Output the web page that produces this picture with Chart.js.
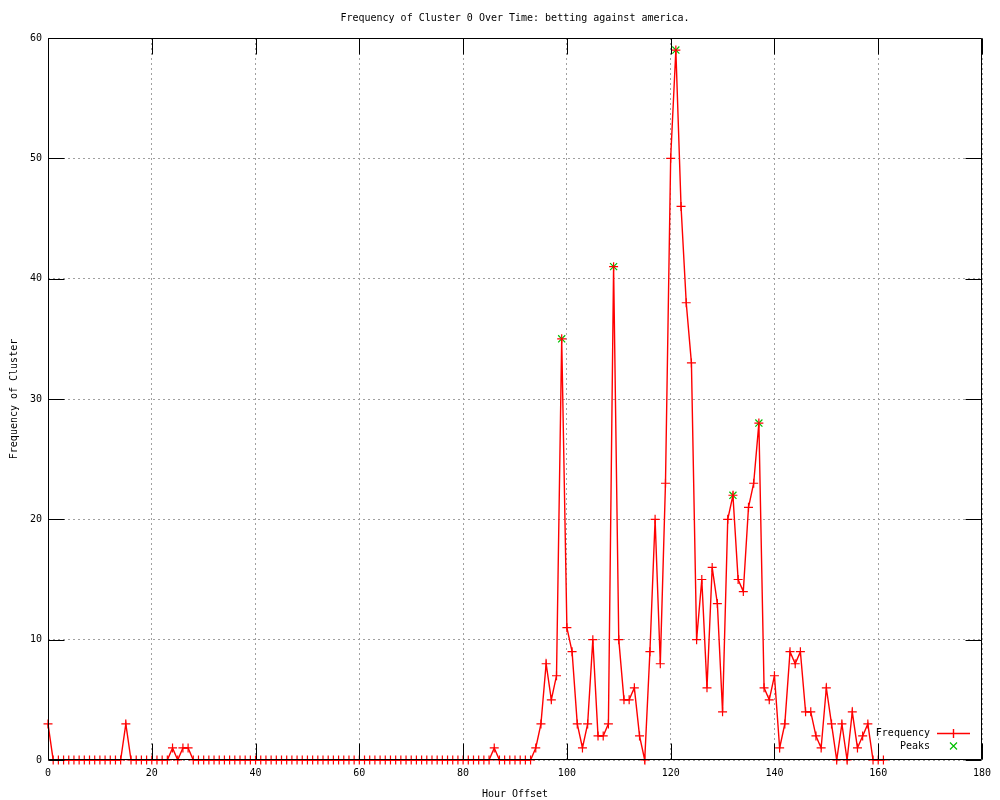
<!DOCTYPE html>
<html>
<head>
<meta charset="utf-8">
<title>Frequency of Cluster 0 Over Time</title>
<script src="https://cdn.jsdelivr.net/npm/chart.js@4.4.1/dist/chart.umd.min.js"></script>
<style>
    html, body { margin: 0; padding: 0; background: #ffffff; }
    canvas { display: block; }
</style>
</head>
<body>
<canvas id="clusterChart" width="1000" height="800"></canvas>
<script>
// --- Data ---
const chartTitle = 'Frequency of Cluster 0 Over Time: betting against america.';
const firstHour = 0;

// one value per hour offset, starting at firstHour (10 per row)
const frequency = [
    3, 0, 0, 0, 0, 0, 0, 0, 0, 0,
    0, 0, 0, 0, 0, 3, 0, 0, 0, 0,
    0, 0, 0, 0, 1, 0, 1, 1, 0, 0,
    0, 0, 0, 0, 0, 0, 0, 0, 0, 0,
    0, 0, 0, 0, 0, 0, 0, 0, 0, 0,
    0, 0, 0, 0, 0, 0, 0, 0, 0, 0,
    0, 0, 0, 0, 0, 0, 0, 0, 0, 0,
    0, 0, 0, 0, 0, 0, 0, 0, 0, 0,
    0, 0, 0, 0, 0, 0, 1, 0, 0, 0,
    0, 0, 0, 0, 1, 3, 8, 5, 7, 35,
    11, 9, 3, 1, 3, 10, 2, 2, 3, 41,
    10, 5, 5, 6, 2, 0, 9, 20, 8, 23,
    50, 59, 46, 38, 33, 10, 15, 6, 16, 13,
    4, 20, 22, 15, 14, 21, 23, 28, 6, 5,
    7, 1, 3, 9, 8, 9, 4, 4, 2, 1,
    6, 3, 0, 3, 0, 4, 1, 2, 3, 0,
    0, 0
];

const peakHours = [99, 109, 121, 132, 137];
const peakValues = [35, 41, 59, 22, 28];

const xTickValues = [0, 20, 40, 60, 80, 100, 120, 140, 160, 180];
const yTickValues = [0, 10, 20, 30, 40, 50, 60];

// --- Look ---
const FONT = 'DejaVu Sans Mono';
const RED = '#ff0000';
const GREEN = '#00c000';
const TIC_LEN = 16;

const frequencyPoints = frequency.map((v, i) => ({ x: firstHour + i, y: v }));
const peakPoints = peakHours.map((h, i) => ({ x: h, y: peakValues[i] }));

function strokeSegments(ctx, color, width, segs) {
    ctx.save();
    ctx.strokeStyle = color;
    ctx.lineWidth = width;
    ctx.beginPath();
    segs.forEach(s => {
        ctx.moveTo(s[0], s[1]);
        ctx.lineTo(s[2], s[3]);
    });
    ctx.stroke();
    ctx.restore();
}

// title centred over the plot, like gnuplot does it
const plotTitle = {
    id: 'plotTitle',
    afterDraw(chart) {
        const { ctx, chartArea } = chart;
        ctx.save();
        ctx.font = '10px "' + FONT + '"';
        ctx.fillStyle = '#000';
        ctx.textAlign = 'center';
        ctx.textBaseline = 'middle';
        ctx.fillText(chartTitle, (chartArea.left + chartArea.right) / 2, 18);
        ctx.restore();
    }
};

// black border with inward tics on all four sides
const plotFrame = {
    id: 'plotFrame',
    afterDatasetsDraw(chart) {
        const { ctx, chartArea: a, scales } = chart;
        const left = Math.round(a.left) + 0.5;
        const right = Math.round(a.right) - 0.5;
        const top = Math.round(a.top) + 0.5;
        const bottom = Math.round(a.bottom) - 0.5;
        const segs = [];
        xTickValues.forEach(v => {
            const px = Math.round(scales.x.getPixelForValue(v)) + 0.5;
            segs.push([px, bottom, px, bottom - TIC_LEN]);
            segs.push([px, top, px, top + TIC_LEN]);
        });
        yTickValues.forEach(v => {
            const py = Math.round(scales.y.getPixelForValue(v)) + 0.5;
            segs.push([left, py, left + TIC_LEN, py]);
            segs.push([right, py, right - TIC_LEN, py]);
        });
        segs.push([left, top, right, top], [right, top, right, bottom],
                  [right, bottom, left, bottom], [left, bottom, left, top]);
        strokeSegments(ctx, '#000', 1, segs);
    }
};

// gnuplot style key in the lower right corner: text first, sample after
const plotKey = {
    id: 'plotKey',
    afterDraw(chart) {
        const { ctx } = chart;
        const sets = chart.data.datasets;
        ctx.save();
        ctx.font = '10px "' + FONT + '"';
        ctx.fillStyle = '#000';
        ctx.textAlign = 'right';
        ctx.textBaseline = 'middle';
        ctx.fillText(sets[0].label, 930, 733);
        ctx.fillText(sets[1].label, 930, 746);
        ctx.restore();

        strokeSegments(ctx, RED, 1.4, [
            [937, 733.5, 970, 733.5],
            [953.5, 729, 953.5, 738]
        ]);
        strokeSegments(ctx, GREEN, 1.2, [
            [950, 742.5, 957, 749.5],
            [957, 742.5, 950, 749.5]
        ]);
    }
};

const ctx = document.getElementById('clusterChart').getContext('2d');
new Chart(ctx, {
    type: 'line',
    data: {
        datasets: [
            {
                label: 'Frequency',
                data: frequencyPoints,
                borderColor: RED,
                borderWidth: 1.4,
                tension: 0,
                pointStyle: 'cross',
                pointRadius: 4.5,
                pointHoverRadius: 4.5,
                pointBorderColor: RED,
                pointBorderWidth: 1.2,
                clip: false
            },
            {
                label: 'Peaks',
                data: peakPoints,
                showLine: false,
                borderColor: GREEN,
                pointStyle: 'crossRot',
                pointRadius: 5,
                pointHoverRadius: 5,
                pointBorderColor: GREEN,
                pointBorderWidth: 1.2,
                clip: false
            }
        ]
    },
    options: {
        responsive: false,
        animation: false,
        devicePixelRatio: 1,
        events: [],
        layout: {
            padding: { top: 38, right: 18, left: 0, bottom: 0 }
        },
        plugins: {
            legend: { display: false },
            title: { display: false },
            tooltip: { enabled: false }
        },
        scales: {
            x: {
                type: 'linear',
                min: 0,
                max: 180,
                afterBuildTicks: scale => { scale.ticks = xTickValues.map(v => ({ value: v })); },
                afterFit: scale => { scale.height = 40; },
                grid: { color: '#a0a0a0', drawTicks: false },
                border: { display: false, dash: [2, 3] },
                ticks: {
                    color: '#000',
                    padding: 7,
                    maxRotation: 0,
                    font: { family: FONT, size: 10 }
                },
                title: {
                    display: true,
                    text: 'Hour Offset',
                    color: '#000',
                    padding: { top: 1, bottom: 0 },
                    font: { family: FONT, size: 10, lineHeight: 1.2 }
                }
            },
            y: {
                type: 'linear',
                min: 0,
                max: 60,
                afterBuildTicks: scale => { scale.ticks = yTickValues.map(v => ({ value: v })); },
                afterFit: scale => { scale.width = 48; },
                grid: { color: '#a0a0a0', drawTicks: false },
                border: { display: false, dash: [2, 3] },
                ticks: {
                    color: '#000',
                    padding: 6,
                    font: { family: FONT, size: 10 }
                },
                title: {
                    display: true,
                    text: 'Frequency of Cluster',
                    color: '#000',
                    padding: { top: 8, bottom: 0 },
                    font: { family: FONT, size: 10, lineHeight: 1.2 }
                }
            }
        }
    },
    plugins: [plotTitle, plotFrame, plotKey]
});
</script>
</body>
</html>
